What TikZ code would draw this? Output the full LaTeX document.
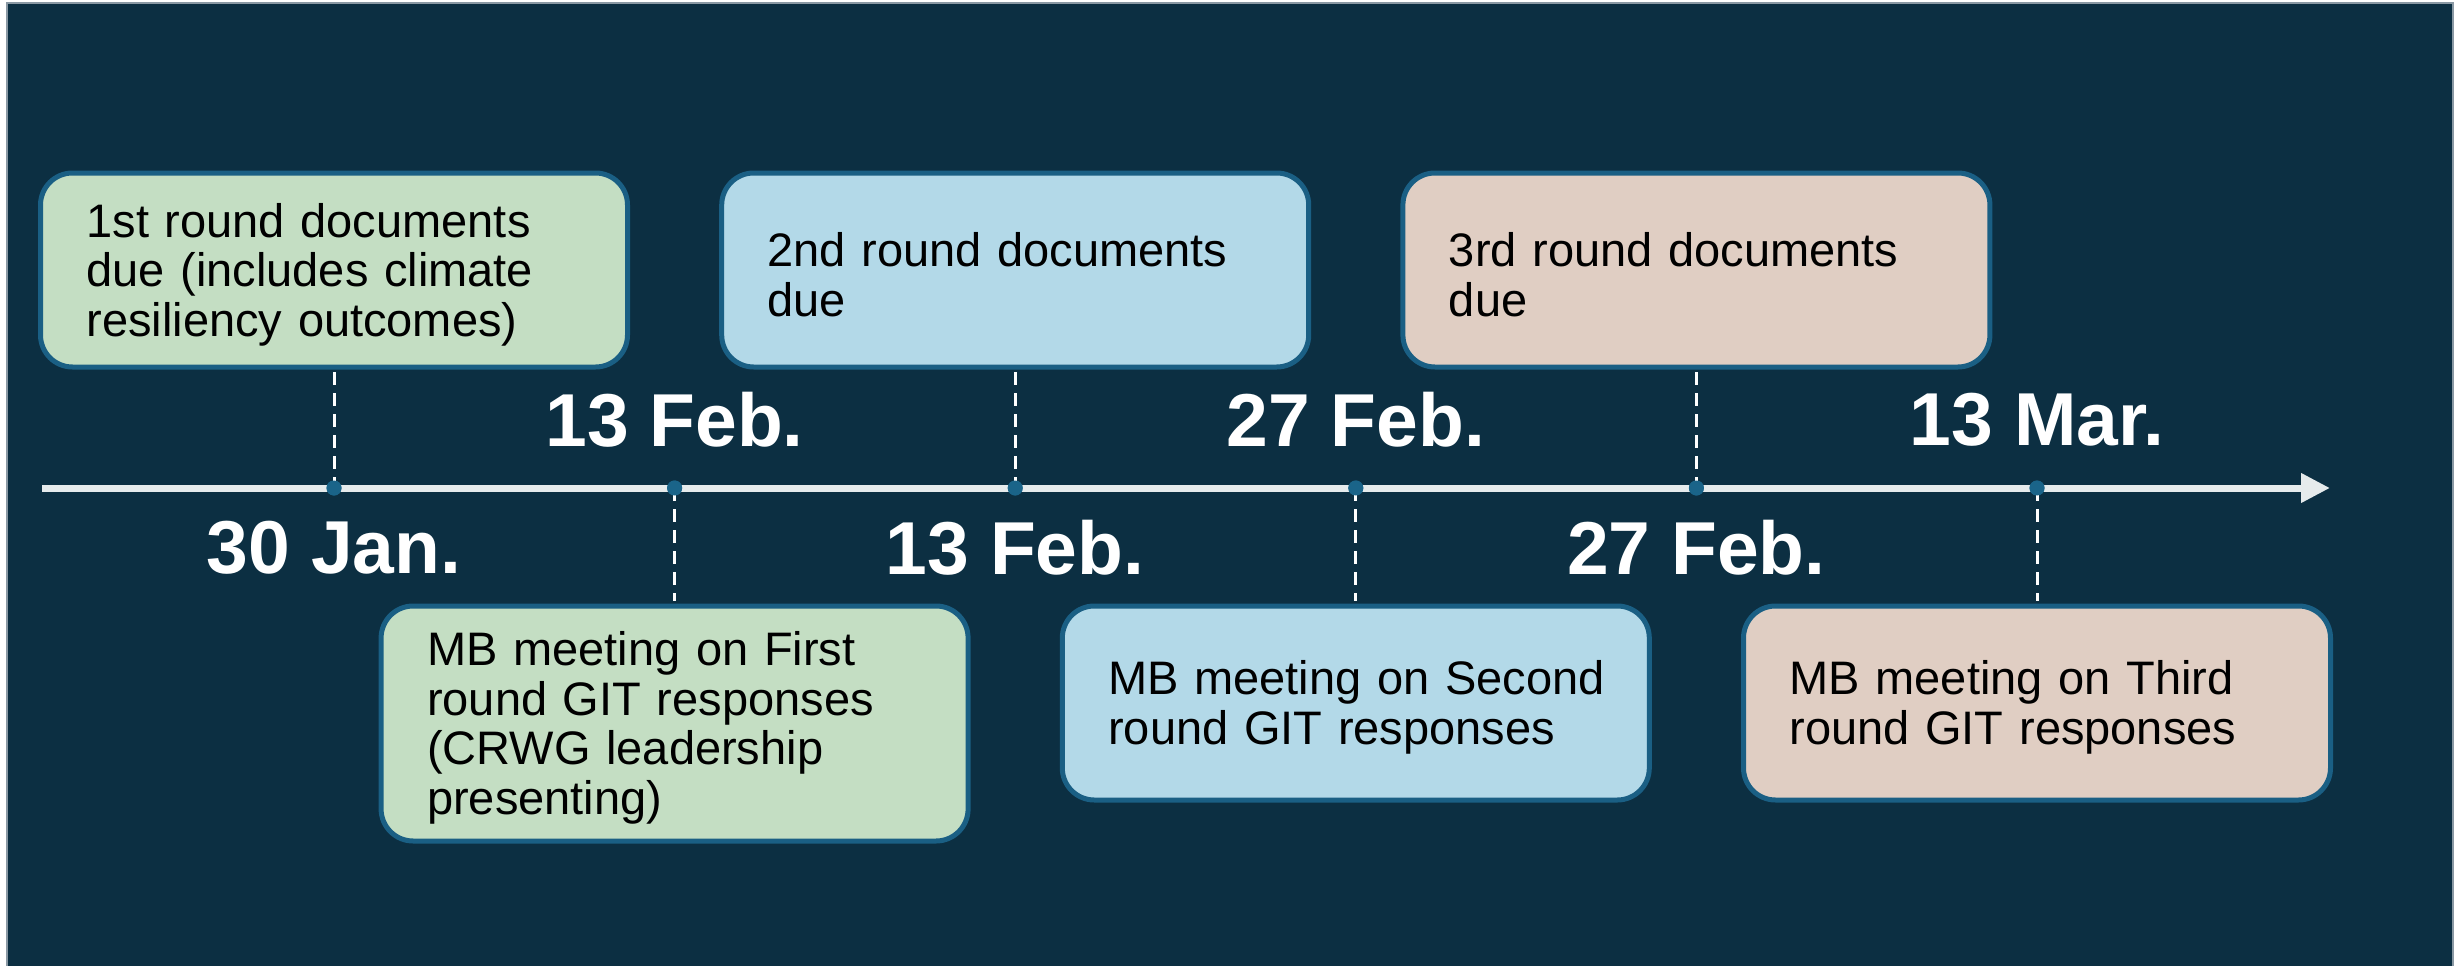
\documentclass[tikz,border=0pt]{standalone}
\usepackage{fontspec}
\setmainfont{Liberation Sans}
\usetikzlibrary{arrows.meta}
\definecolor{navy}{HTML}{0C2F42}
\definecolor{boxline}{HTML}{1A5F84}
\definecolor{gfill}{HTML}{C4DEC3}
\definecolor{bfill}{HTML}{B3D9E8}
\definecolor{pfill}{HTML}{E0CEC3}
\definecolor{axiscol}{HTML}{E6EBEC}
\definecolor{dotcol}{HTML}{1A6489}
\definecolor{framecol}{HTML}{8A99A4}
\tikzset{
  evbox/.style={draw=boxline, line width=5pt, rounded corners=32pt,
    minimum width=587pt, text width=495pt, inner xsep=46pt, inner ysep=0pt,
    text height=43pt, align=left, text=black,
    font=\fontsize{47}{49.5}\selectfont},
  tbox/.style={evbox, minimum height=194pt},
  dotnode/.style={circle, fill=dotcol, inner sep=0pt, minimum size=15pt},
  datelab/.style={text=white, font=\fontsize{75}{80}\selectfont\bfseries, inner sep=0pt},
  dashline/.style={draw=white, line width=3pt, dash pattern=on 13pt off 8pt},
  axisline/.style={draw=axiscol, line width=7pt, -{Triangle[length=29pt,width=28pt]}}
}
\begin{document}
\begin{tikzpicture}[x=1pt,y=-1pt]
\useasboundingbox (0,0) rectangle (2461,966);
\fill[white] (0,0) rectangle (2461,966);
\fill[navy] (7,3) rectangle (2453,970);
\draw[framecol, line width=2pt] (7,970) -- (7,3) -- (2453,3) -- (2453,970);

% axis
\coordinate (axL) at (42,488);
\coordinate (axR) at (2330,488);
\draw[axisline] (axL) -- (axR);

\node[dotnode] (d1) at (334,488) {};
\node[dotnode] (d2) at (674.6,488) {};
\node[dotnode] (d3) at (1015.2,488) {};
\node[dotnode] (d4) at (1355.8,488) {};
\node[dotnode] (d5) at (1696.4,488) {};
\node[dotnode] (d6) at (2037,488) {};

% top boxes
\node[tbox, fill=gfill] (b1) at (334,270) {1st round documents\\due (includes climate\\resiliency outcomes)};
\node[tbox, fill=bfill] (b2) at (1015.2,270) {2nd round documents\\due};
\node[tbox, fill=pfill] (b3) at (1696.4,270) {3rd round documents\\due};

% bottom boxes
\node[evbox, minimum height=235pt, fill=gfill] (b4) at (674.6,723.5) {MB meeting on First\\round GIT responses\\(CRWG leadership\\presenting)};
\node[tbox, fill=bfill] (b5) at (1355.8,703) {\mbox{MB meeting on Second}\\round GIT responses};
\node[tbox, fill=pfill] (b6) at (2037,703) {MB meeting on Third\\round GIT responses};

% dashed connectors
\draw[dashline] ([yshift=-2.5pt]b1.south) -- (d1.center);
\draw[dashline] ([yshift=-2.5pt]b2.south) -- (d3.center);
\draw[dashline] ([yshift=-2.5pt]b3.south) -- (d5.center);
\draw[dashline] (d2.center) -- ([yshift=2.5pt]b4.north);
\draw[dashline] (d4.center) -- ([yshift=2.5pt]b5.north);
\draw[dashline] (d6.center) -- ([yshift=2.5pt]b6.north);

% dots on top of dashes
\fill[dotcol] (d1) circle (7.5pt) (d2) circle (7.5pt) (d3) circle (7.5pt)
  (d4) circle (7.5pt) (d5) circle (7.5pt) (d6) circle (7.5pt);

% date labels
\node[datelab] (l1) at (674.6,420) {13 Feb.};
\node[datelab] (l2) at (1355.8,420) {27 Feb.};
\node[datelab] (l3) at (2037,420) {13 Mar.};
\node[datelab] (l4) at (334,548) {30 Jan.};
\node[datelab] (l5) at (1015.2,548) {13 Feb.};
\node[datelab] (l6) at (1696.4,548) {27 Feb.};
\end{tikzpicture}
\end{document}
